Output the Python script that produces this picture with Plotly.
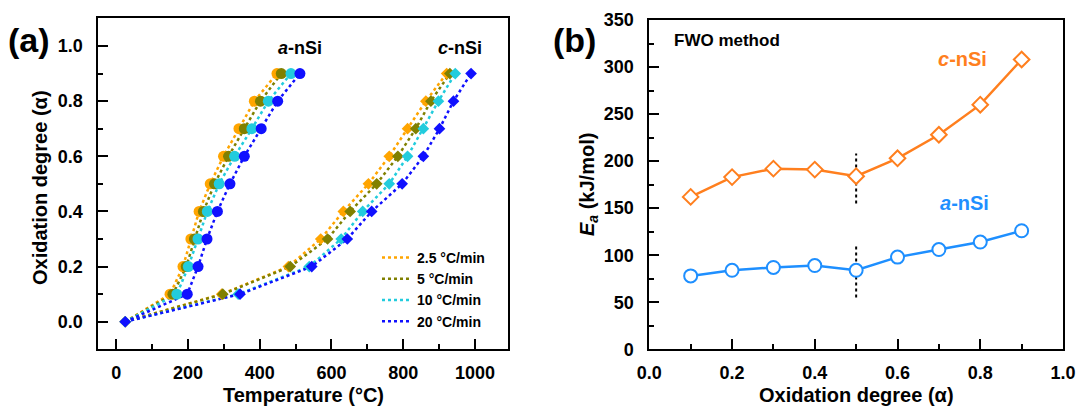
import plotly.graph_objects as go

# ---------------- data: panel (a) ----------------
alpha_a = [0.0, 0.1, 0.2, 0.3, 0.4, 0.5, 0.6, 0.7, 0.8, 0.9]
rates = ["2.5 °C/min", "5 °C/min", "10 °C/min", "20 °C/min"]
colors_a = ["#FFA500", "#808000", "#22CCDD", "#1010FF"]

# a-nSi temperatures (°C) at each alpha, per heating rate
T_a_25 = [25, 150, 186, 208, 231, 262, 299, 342, 385, 448]
T_a_5 = [25, 158, 195, 218, 243, 274, 313, 357, 402, 460]
T_a_10 = [25, 169, 201, 228, 254, 287, 330, 378, 424, 487]
T_a_20 = [25, 198, 228, 253, 282, 317, 357, 404, 450, 512]

# c-nSi temperatures (°C)
T_c_25 = [25, 294, 480, 570, 633, 703, 761, 812, 863, 921]
T_c_5 = [25, 297, 485, 589, 652, 726, 785, 835, 877, 930]
T_c_10 = [25, 340, 538, 627, 687, 761, 812, 856, 898, 945]
T_c_20 = [25, 345, 545, 644, 712, 797, 856, 901, 940, 989]

T_a = [T_a_25, T_a_5, T_a_10, T_a_20]
T_c = [T_c_25, T_c_5, T_c_10, T_c_20]

# ---------------- data: panel (b) ----------------
alpha_b = [0.1, 0.2, 0.3, 0.4, 0.5, 0.6, 0.7, 0.8, 0.9]
Ea_c = [162, 183, 192, 191, 184, 203, 228, 260, 308]
Ea_a = [78, 84, 87, 89, 84, 98, 106, 114, 126]
divider_x = 0.5
divider_c = [155, 208]
divider_a = [55, 110]

FONT = "Arial, Liberation Sans, sans-serif"
fig = go.Figure()

for i in range(4):
    fig.add_trace(go.Scatter(x=T_a[i], y=alpha_a, mode="lines", name=rates[i],
                             line=dict(color=colors_a[i], width=2.5, dash="dot"),
                             legendgroup=rates[i], showlegend=True,
                             xaxis="x", yaxis="y"))
    fig.add_trace(go.Scatter(x=T_c[i], y=alpha_a, mode="lines", name=rates[i],
                             line=dict(color=colors_a[i], width=2.5, dash="dot"),
                             legendgroup=rates[i], showlegend=False,
                             xaxis="x", yaxis="y"))
for i in range(4):
    fig.add_trace(go.Scatter(x=T_a[i][1:], y=alpha_a[1:], mode="markers",
                             marker=dict(symbol="circle", size=11, color=colors_a[i]),
                             showlegend=False, xaxis="x", yaxis="y"))
    fig.add_trace(go.Scatter(x=T_c[i], y=alpha_a, mode="markers",
                             marker=dict(symbol="diamond", size=9, color=colors_a[i]),
                             showlegend=False, xaxis="x", yaxis="y"))

# panel (b)
fig.add_trace(go.Scatter(x=[divider_x, divider_x], y=divider_c, mode="lines",
                         line=dict(color="black", width=2, dash="dot"),
                         showlegend=False, xaxis="x2", yaxis="y2"))
fig.add_trace(go.Scatter(x=[divider_x, divider_x], y=divider_a, mode="lines",
                         line=dict(color="black", width=2, dash="dot"),
                         showlegend=False, xaxis="x2", yaxis="y2"))
fig.add_trace(go.Scatter(x=alpha_b, y=Ea_c, mode="lines+markers",
                         line=dict(color="#FF7F1E", width=2.5),
                         marker=dict(symbol="diamond", size=12, color="white",
                                     line=dict(color="#FF7F1E", width=2)),
                         showlegend=False, xaxis="x2", yaxis="y2"))
fig.add_trace(go.Scatter(x=alpha_b, y=Ea_a, mode="lines+markers",
                         line=dict(color="#1E8FFF", width=2.5),
                         marker=dict(symbol="circle", size=13, color="white",
                                     line=dict(color="#1E8FFF", width=2)),
                         showlegend=False, xaxis="x2", yaxis="y2"))

W, H = 1079, 408
def px(x):
    return x / W
def py(y):
    return 1 - y / H

axis_common = dict(showline=True, linecolor="black", linewidth=2, mirror=True,
                   ticks="inside", tickwidth=2, ticklen=10, tickcolor="black",
                   showgrid=False, zeroline=False, automargin=False,
                   tickfont=dict(family=FONT, size=18, color="black", weight="bold"))

fig.update_layout(
    width=W, height=H,
    margin=dict(l=0, r=0, t=0, b=0),
    paper_bgcolor="white", plot_bgcolor="white",
    font=dict(family=FONT, color="black"),
    xaxis=dict(domain=[px(98.3), px(508)], range=[-50, 1092], tick0=0, dtick=200,
               minor=dict(ticks="inside", dtick=100, ticklen=5, tickwidth=2, tickcolor="black"),
               ticklabelstandoff=6, anchor="y", **axis_common),
    yaxis=dict(domain=[py(349.3), py(18.4)], range=[-0.1, 1.1], tick0=0, dtick=0.2,
               tickformat=".1f",
               minor=dict(ticks="inside", dtick=0.1, ticklen=5, tickwidth=2, tickcolor="black"),
               ticklabelstandoff=10, anchor="x", **axis_common),
    xaxis2=dict(domain=[px(649.3), px(1063)], range=[0, 1], tick0=0, dtick=0.2,
                tickformat=".1f",
                minor=dict(ticks="inside", dtick=0.1, ticklen=5, tickwidth=2, tickcolor="black"),
                ticklabelstandoff=6, anchor="y2", **axis_common),
    yaxis2=dict(domain=[py(349.3), py(20)], range=[0, 350], tick0=0, dtick=50,
                minor=dict(ticks="inside", dtick=25, ticklen=5, tickwidth=2, tickcolor="black"),
                ticklabelstandoff=10, anchor="x2", **axis_common),
    legend=dict(x=px(377), y=py(242), xanchor="left", yanchor="top",
                bgcolor="rgba(0,0,0,0)", itemwidth=30, tracegroupgap=0,
                font=dict(family=FONT, size=14, color="black", weight="bold")),
)

ann = [
    dict(text="<b>(a)</b>", x=px(29), y=py(40), font=dict(size=34)),
    dict(text="<b>(b)</b>", x=px(574), y=py(40), font=dict(size=34)),
    dict(text="<b>Temperature (°C)</b>", x=px(303), y=py(395), font=dict(size=20)),
    dict(text="<b>Oxidation degree (α)</b>", x=px(40), y=py(188), font=dict(size=20), textangle=-90),
    dict(text="<b>Oxidation degree (α)</b>", x=px(856), y=py(395), font=dict(size=20)),
    dict(text="<b><i>E</i><sub><i>a</i></sub> (kJ/mol)</b>", x=px(589), y=py(185), font=dict(size=20), textangle=-90),
    dict(text="<b><i>a</i>-nSi</b>", x=px(300), y=py(48), font=dict(size=18)),
    dict(text="<b><i>c</i>-nSi</b>", x=px(460), y=py(48), font=dict(size=18)),
    dict(text="<b>FWO method</b>", x=px(672), y=py(41), xanchor="left", font=dict(size=17)),
    dict(text="<b><i>c</i>-nSi</b>", x=px(962), y=py(59), font=dict(size=20, color="#FF7F1E")),
    dict(text="<b><i>a</i>-nSi</b>", x=px(964), y=py(203), font=dict(size=20, color="#1E8FFF")),
]
for a in ann:
    a.setdefault("xanchor", "center")
    a.update(xref="paper", yref="paper", yanchor="middle", showarrow=False)
    a["font"] = dict(family=FONT, color=a["font"].get("color", "black"), size=a["font"]["size"])
    fig.add_annotation(**a)

fig.write_html("out.html")
